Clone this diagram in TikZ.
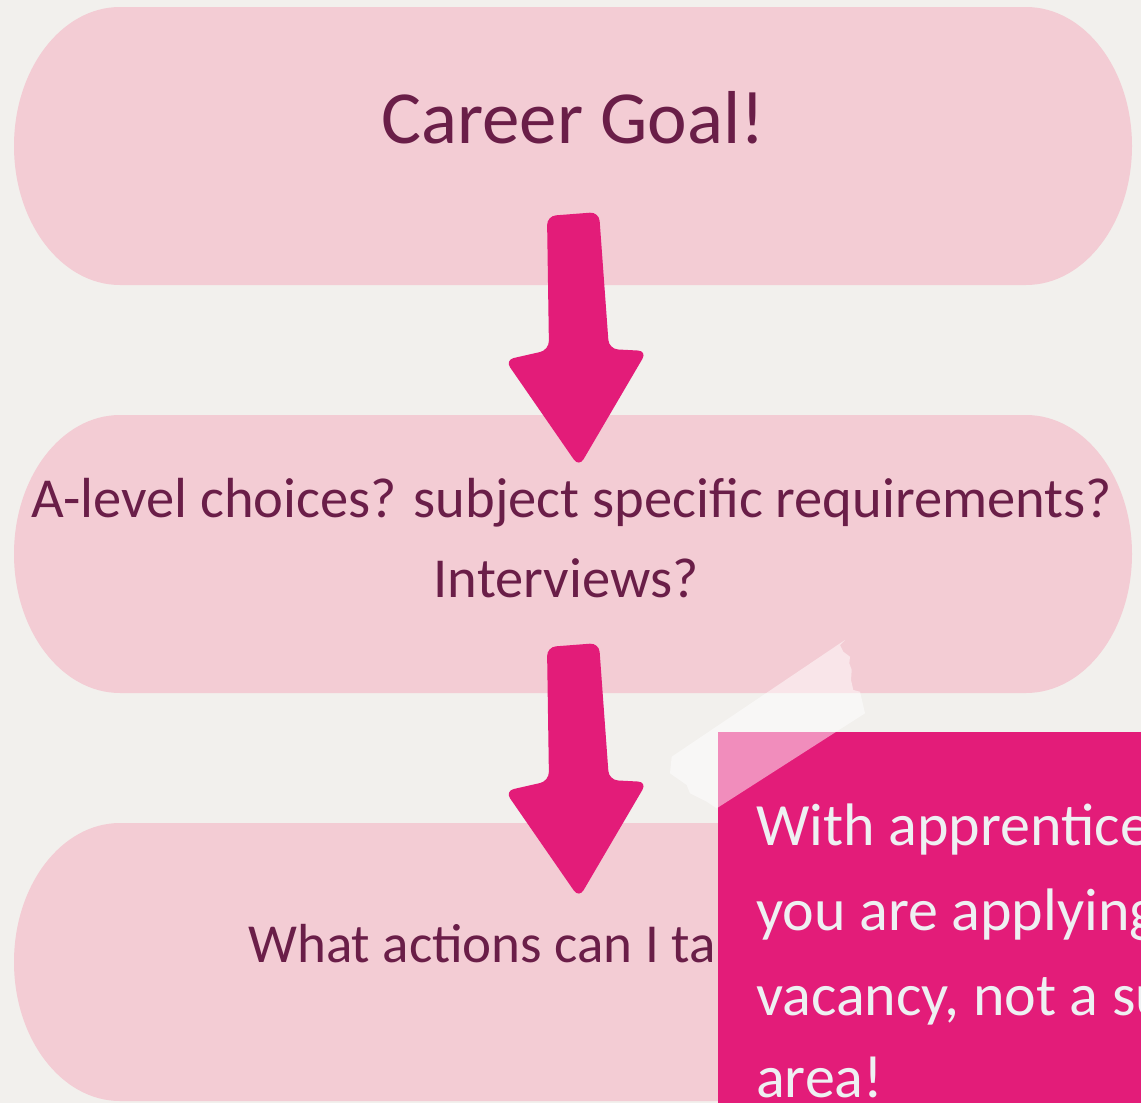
\documentclass[tikz,border=0pt]{standalone}
\usepackage{fontspec}
\setmainfont{Carlito}
\definecolor{bg}{HTML}{F2F0ED}
\definecolor{boxpink}{HTML}{F3CCD4}
\definecolor{plum}{HTML}{6A1E48}
\definecolor{magenta}{HTML}{E31C79}
\definecolor{noteText}{HTML}{EEF0F2}
\tikzset{
  pill/.style={fill=boxpink, draw=none},
  bigarrow/.style={fill=magenta, draw=none, rounded corners=9pt},
  boxtext/.style={text=plum, inner sep=0pt, align=center},
  notetext/.style={text=noteText, inner sep=0pt, anchor=base west, font=\fontsize{60}{72}\selectfont},
  tape/.style={fill=white, fill opacity=0.5, draw=none}
}
\newcommand{\pillshape}[2]{% top, bottom
  \fill[pill] (120,#1) -- (1026,#1) arc[start angle=-90, end angle=90, x radius=106, y radius=139] -- (120,#2) arc[start angle=90, end angle=270, x radius=106, y radius=139] -- cycle;
}
\begin{document}
\begin{tikzpicture}[x=1pt, y=-1pt]
\useasboundingbox (0,0) rectangle (1141,1103);
\clip (0,0) rectangle (1141,1103);
\fill[bg] (0,0) rectangle (1141,1103);

% boxes
\pillshape{7}{285}
\pillshape{415}{693}
\pillshape{823}{1101}

% texts in boxes
\node[boxtext, anchor=base, font=\fontsize{75}{90}\selectfont] (goal) at (573,143) {Career Goal!};
\node[boxtext, anchor=base, font=\fontsize{56.5}{80}\selectfont] (alevel) at (571.5,517) {A-level choices? subject specific requirements?};
\node[boxtext, anchor=base, font=\fontsize{56.5}{80}\selectfont] (interv) at (566,597) {Interviews?};
\node[boxtext, anchor=base west, font=\fontsize{55}{66}\selectfont] (actions) at (248,962) {What actions can I take?};

% arrows
\fill[bigarrow] (547,216) -- (599,212) -- (609,349) -- (647,351) -- (579,467) -- (505,360) -- (549,350) -- cycle;
\begin{scope}[yshift=-431pt]
\fill[bigarrow] (547,216) -- (599,212) -- (609,349) -- (647,351) -- (579,467) -- (505,360) -- (549,350) -- cycle;
\end{scope}

% callout note
\fill[magenta] (718,732) rectangle (1160,1120);
\node[notetext] (n1) at (756,845) {With apprenticeships,};
\node[notetext] (n2) at (756,930) {you are applying for a job};
\node[notetext] (n3) at (756,1015) {vacancy, not a subject};
\node[notetext] (n4) at (756,1097) {area!};

% tape
\fill[tape] (845,640) -- (840,645) -- (843.3,651.7) -- (850,656.7) -- (849.3,663.3) -- (851.7,670) -- (851,680) -- (853.3,690) -- (860,691.7) -- (865,713.3) -- (716.7,808.3) -- (706.7,801.7) -- (690,793.3) -- (686.7,785) -- (670,773.3) -- (671.7,756.7) -- cycle;
\end{tikzpicture}
\end{document}
